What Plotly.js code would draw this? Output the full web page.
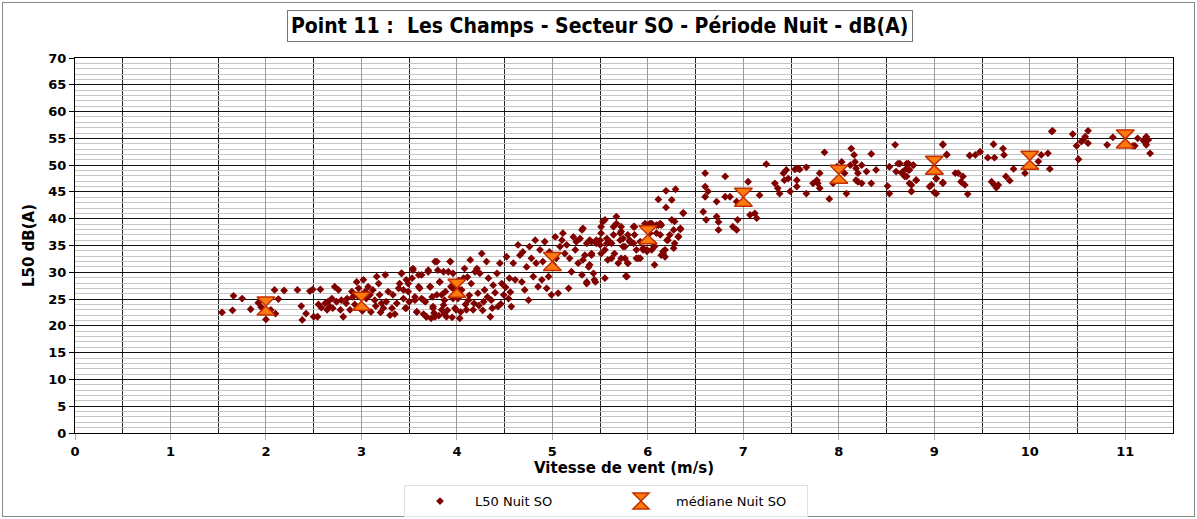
<!DOCTYPE html>
<html>
<head>
<meta charset="utf-8">
<script src="https://cdn.plot.ly/plotly-3.0.1.min.js"></script>
<style>
html,body{margin:0;padding:0;background:#fff;}
#frame{position:absolute;left:2px;top:2px;width:1191px;height:513px;border:1px solid #888;}
#chart{position:absolute;left:0;top:0;}
</style>
</head>
<body>
<div id="frame"></div>
<div id="chart"></div>
<script>
// L50 Nuit SO : [vitesse (m/s), L50 dB(A)]
const l50Nuit = [
[1.54,22.5],[1.65,22.9],[1.66,25.6],[1.75,25.1],[1.84,23.1],[1.92,24.3],[1.95,23.5],
[2.0,21.2],[2.09,26.7],[2.13,25.0],[2.10,22.3],[2.19,26.6],[2.33,26.7],[2.37,23.7],[2.42,22.3],[2.38,21.1],[2.46,26.5],[2.49,26.8],[2.05,23.0],
[2.57,26.8],[2.55,24.0],[2.58,23.4],[2.54,21.7],[2.50,21.7],
[2.62,24.2],[2.65,24.5],[2.67,23.6],[2.64,23.0],[2.69,25.1],[2.72,27.3],[2.76,26.7],[2.74,24.5],[2.70,23.3],[2.79,24.8],
[2.81,21.7],[2.78,23.0],[2.85,25.1],[2.88,23.0],[2.90,26.4],[2.91,25.4],[2.95,28.2],[2.97,27.0],[3.02,28.6],[3.04,26.4],
[3.05,25.1],[3.07,27.3],[3.09,25.8],[3.12,26.7],[3.14,24.8],[3.16,29.2],[3.18,27.9],[3.19,25.8],[3.21,24.2],[3.23,23.3],
[3.25,29.5],[3.26,24.5],[3.28,26.4],[3.30,22.0],[3.32,23.3],[3.33,25.8],[3.35,22.2],[3.37,24.2],[3.39,27.0],[3.40,27.9],
[3.42,29.8],[3.44,25.1],[3.46,23.3],[3.47,28.6],[3.49,26.4],[3.50,24.5],
[2.93,24.0],[2.99,23.2],[3.10,22.6],[2.84,24.2],[3.15,23.7],[2.96,25.6],[3.01,22.8],[3.20,22.5],
[3.54,30.4],[3.60,29.5],[3.53,28.9],[3.61,27.0],[3.56,24.8],[3.63,25.1],[3.58,22.6],[3.65,22.2],[3.68,21.7],[3.67,24.5],
[3.70,30.4],[3.72,27.3],[3.74,25.4],[3.75,23.3],[3.77,21.7],[3.79,32.0],[3.80,30.4],[3.82,28.2],[3.84,25.8],[3.86,23.9],
[3.87,22.2],[3.91,30.1],[3.93,32.0],[3.94,27.3],[3.96,25.1],[3.99,23.0],[4.01,27.0],
[3.42,29.8],[3.44,26.7],[3.47,23.3],[3.49,27.9],[3.54,30.7],[3.56,25.4],[3.58,22.6],[3.60,27.3],[3.63,29.5],[3.65,24.8],
[3.68,21.7],[3.70,30.1],[3.72,27.3],[3.75,23.6],[3.73,21.4],[3.77,32.0],[3.79,25.8],[3.82,28.2],[3.84,23.0],[3.86,30.1],
[3.87,24.8],[3.89,21.7],[3.93,32.0],[3.94,27.3],[3.96,29.8],[3.98,23.3],[4.01,25.1],[4.03,21.4],[4.05,26.7],[4.07,28.9],
[4.08,30.7],[4.10,23.0],[4.12,24.8],[4.14,32.3],[4.15,27.9],[4.17,23.0],[4.19,30.1],[4.21,30.7],[4.22,26.1],[4.24,29.8],
[4.26,33.5],[4.28,24.5],[4.29,26.7],[4.31,32.0],[4.33,28.9],[4.35,21.7],[4.36,24.8],[4.38,27.6],[4.42,29.8],[4.43,23.6],
[4.45,31.7],[4.47,27.9],[4.49,25.8],[4.52,32.9],[4.54,25.1],[4.55,28.9],[4.57,23.6],[4.59,31.7],[4.61,28.6],[4.64,35.1],
[4.66,33.2],[4.68,28.2],[4.69,33.8],[4.71,26.7],[4.73,31.0],[4.75,24.8],[4.76,34.8],[4.78,32.6],[4.80,29.2],[4.82,36.0],
[4.83,31.7],[4.85,27.3],[4.87,34.2],[4.89,28.6],[4.90,32.0],[4.92,35.7],[4.94,27.0],[4.96,29.2],[4.97,33.8],[4.99,25.8],
[5.01,31.4],[5.03,36.6],[5.04,32.6],[5.06,26.1],[5.08,34.8],[5.10,36.0],[5.11,37.3],[5.13,33.5],[5.15,35.1],[5.17,27.0],
[5.18,32.6],[5.20,30.1],[5.22,36.6],[5.24,34.2],[5.25,35.7],[5.27,31.7],[5.29,36.3],[5.31,29.5],[5.32,38.2],[5.34,33.2],
[5.36,28.2],[5.38,31.0],[5.39,36.0],[5.41,33.5],[5.43,29.8],[5.45,28.2],[5.46,35.4],[5.50,36.0],[5.51,37.3],[5.53,39.5],
[5.55,34.2],[5.57,35.4],[5.58,32.3],
[3.76,22.4],[3.81,21.9],[3.90,22.9],[3.95,21.6],[4.04,22.6],[4.09,24.0],[4.13,25.7],[4.18,24.2],[4.23,23.8],[4.27,22.9],
[4.32,25.4],[4.37,23.3],[4.40,26.2],[4.46,24.1],[4.51,27.2],[4.56,26.3],[3.88,26.4],[3.97,26.8],[4.02,28.5],[4.11,29.1],
[5.31,37.9],[5.36,35.4],[5.41,35.7],[5.46,36.0],[5.50,35.1],[5.51,38.5],[5.55,39.8],[5.57,36.3],[5.60,35.7],[5.64,38.5],
[5.67,40.4],[5.71,37.3],[5.72,38.5],[5.74,36.3],[5.76,34.8],[5.79,37.0],[5.81,35.7],[5.85,35.4],[5.86,38.5],[5.88,32.6],
[5.92,32.6],[5.95,34.2],[5.97,39.1],[5.99,34.2],[6.02,39.1],[6.04,34.2],[6.07,34.8],[6.09,38.8],[6.13,39.1],[5.32,32.3],
[5.39,31.4],[5.44,28.6],[5.55,28.9],[5.41,33.2],[5.51,33.5],[5.62,32.6],[5.72,32.6],[5.79,31.7],[5.77,29.3],[5.36,27.9],
[5.62,35.4],[5.64,37.0],[5.67,39.1],[5.65,33.5],[5.69,31.7],[5.71,36.0],[5.72,37.6],[5.74,34.8],[5.76,32.6],[5.78,29.2],
[5.79,31.7],[5.81,36.0],[5.85,38.5],[5.86,37.0],[5.88,34.2],[5.90,32.6],[5.92,35.7],[5.95,34.5],[5.99,33.9],[6.02,37.3],
[6.04,39.1],[6.06,35.4],[6.07,31.4],[6.09,37.3],[6.11,38.8],[6.13,37.0],[6.14,38.8],[6.16,33.5],[6.18,34.2],[6.20,36.0],
[6.23,37.0],[6.25,39.8],[6.27,37.9],[6.28,35.4],[6.32,36.7],[6.34,38.2],[6.37,41.0],
[6.19,45.2],[6.29,45.5],[6.11,43.6],[6.25,43.5],[6.19,42.1],[6.37,41.1],[6.28,39.5],[6.34,38.0],[6.32,36.6],[6.21,36.0],
[6.27,34.5],[6.16,33.9],[6.18,32.9],[6.14,33.2],
[6.60,48.5],[6.60,46.0],[6.63,45.1],[6.60,44.1],[6.58,41.3],[6.61,39.8],[6.72,43.2],[6.72,40.4],[6.74,39.4],[6.74,37.9],
[6.81,47.9],[6.81,44.1],[6.86,44.1],[6.89,38.5],[6.93,37.9],[6.94,39.8],[6.93,43.2],[7.05,46.9],[7.07,40.7],[7.12,41.0],
[7.14,40.1],[7.17,44.4],[7.24,50.2],[7.33,46.6],[7.36,45.7],[7.38,44.7],[7.42,48.5],[7.43,47.2],[7.45,49.1],[7.47,47.5],
[7.49,45.1],[7.54,49.2],[7.57,49.4],[7.59,49.2],[7.56,47.2],[7.56,46.0],[7.66,49.6],[7.66,44.7],[7.73,46.6],[7.77,47.2],
[7.78,46.6],[7.80,48.5],[7.80,45.7],[7.85,52.4],[7.90,43.7],[7.94,46.6],[7.98,49.7],[8.03,50.6],[8.06,48.5],[8.08,44.7],
[8.12,50.0],[8.13,53.1],[8.16,51.9],[8.17,50.6],[8.18,49.4],[8.20,48.5],[8.18,47.2],[8.20,46.9],[8.24,46.6],[8.24,50.0],
[8.29,48.8],[8.34,46.6],[8.34,52.1],[8.39,49.1],[8.51,46.1],[8.53,44.7],[8.53,49.7],[8.59,53.8],[8.60,48.8],[8.62,50.3],
[8.66,48.5],[8.69,47.9],[8.71,50.3],[8.73,49.1],[8.74,46.6],[8.76,45.1],[8.78,50.0],[8.81,47.2],[8.97,46.3],[9.02,47.5],
[9.02,44.7],[9.09,53.8],[9.09,46.6],[9.13,51.9],
[8.64,50.3],[8.67,48.8],[8.71,49.4],[8.73,50.3],[8.74,49.1],[8.78,50.0],[8.71,47.9],[8.76,46.3],[8.76,45.1],[8.81,47.2],
[8.95,46.0],[9.00,44.9],[9.02,47.5],[9.09,53.9],[9.09,46.8],[9.13,52.0],[9.22,48.5],[9.25,48.5],[9.28,46.9],[9.30,47.9],
[9.32,46.3],[9.35,44.6],[9.37,51.8],[9.43,51.9],[9.48,52.5],[9.56,51.4],[9.60,46.9],[9.62,53.9],[9.63,51.4],[9.63,46.3],
[9.65,45.8],[9.67,46.3],[9.72,53.1],[9.73,51.9],[9.75,47.9],[9.79,47.1],[9.83,49.3],[9.95,48.5],[10.09,50.7],[10.12,51.9],
[10.19,52.2],[10.21,49.3],[10.23,56.3],[10.24,56.4],[10.45,55.8],[10.49,53.6],[10.51,51.1],[10.54,54.4],[10.56,54.7],[10.58,55.3],
[10.61,56.4],[10.61,54.1],[10.81,53.8],[10.87,55.2],[11.08,53.6],[11.10,53.6],[11.13,55.0],[11.19,54.6],[11.22,55.3],[11.24,54.7],
[11.22,53.8],[11.26,52.2]
];

// médiane Nuit SO
const medVitesse = [2, 3, 4, 5, 6, 7, 8, 9, 10, 11];
const medDb = [23.7, 24.6, 27.0, 32.0, 37.0, 44.0, 48.3, 50.0, 50.9, 54.9];

const titleText = "Point 11 :  Les Champs - Secteur SO - Période Nuit - dB(A)";
const xTitle = "Vitesse de vent (m/s)";
const yTitle = "L50 dB(A)";
const serie1 = "L50 Nuit SO";
const serie2 = "médiane Nuit SO";

const traces = [
  {
    type: "scatter", mode: "markers", name: serie1,
    x: l50Nuit.map(p => p[0]), y: l50Nuit.map(p => p[1]),
    marker: {symbol: "diamond", size: 6, color: "#800000"}
  },
  {
    type: "scatter", mode: "markers", name: serie2,
    x: medVitesse, y: medDb,
    marker: {symbol: "hourglass", size: 18, color: "#ff7a10", line: {color: "#c23000", width: 1.5}}
  }
];

const tickFont = {family: "DejaVu Sans", size: 13, color: "#000", weight: "bold"};
const axTitleFont = {family: "DejaVu Sans", size: 15, color: "#000", weight: "bold"};

const layout = {
  width: 1197, height: 519,
  margin: {l: 75, r: 24, t: 58, b: 86, autoexpand: false},
  paper_bgcolor: "rgba(0,0,0,0)",
  plot_bgcolor: "#fff",
  showlegend: true,
  xaxis: {
    range: [0, 11.5], tick0: 0, dtick: 1,
    showgrid: true, gridcolor: "#9a9a9a", gridwidth: 1,
    minor: {dtick: 0.5, tick0: 0, showgrid: true, gridcolor: "#222", gridwidth: 1},
    ticks: "outside", ticklen: 6, tickcolor: "#aaa",
    showline: true, linecolor: "#000", linewidth: 1, mirror: true,
    zeroline: false,
    tickfont: tickFont,
    title: {text: xTitle, font: axTitleFont, standoff: 4}
  },
  yaxis: {
    range: [0, 70], tick0: 0, dtick: 5,
    showgrid: true, gridcolor: "#111", gridwidth: 1,
    minor: {dtick: 1, tick0: 0, showgrid: true, gridcolor: "#c4c4c4", gridwidth: 1},
    ticks: "outside", ticklen: 5, tickcolor: "#000",
    showline: true, linecolor: "#000", linewidth: 1, mirror: true,
    zeroline: false,
    tickfont: tickFont,
    title: {text: yTitle, font: axTitleFont, standoff: 10}
  },
  legend: {
    orientation: "h", x: 0.4836, xanchor: "center", y: -0.139, yanchor: "top",
    font: {family: "DejaVu Sans", size: 13, color: "#000"},
    bordercolor: "#e0e0e0", borderwidth: 1, bgcolor: "#fff",
    itemwidth: 60, entrywidth: 126
  },
  annotations: [{
    text: titleText, xref: "paper", yref: "paper", x: 0.478, y: 1.085,
    xanchor: "center", yanchor: "middle", showarrow: false,
    font: {family: "DejaVu Sans Condensed, DejaVu Sans", size: 21, color: "#000", weight: "bold"},
    bordercolor: "#777", borderwidth: 1, borderpad: 3, bgcolor: "#fff"
  }]
};

Plotly.newPlot("chart", traces, layout, {staticPlot: true, displayModeBar: false});
</script>
</body>
</html>
